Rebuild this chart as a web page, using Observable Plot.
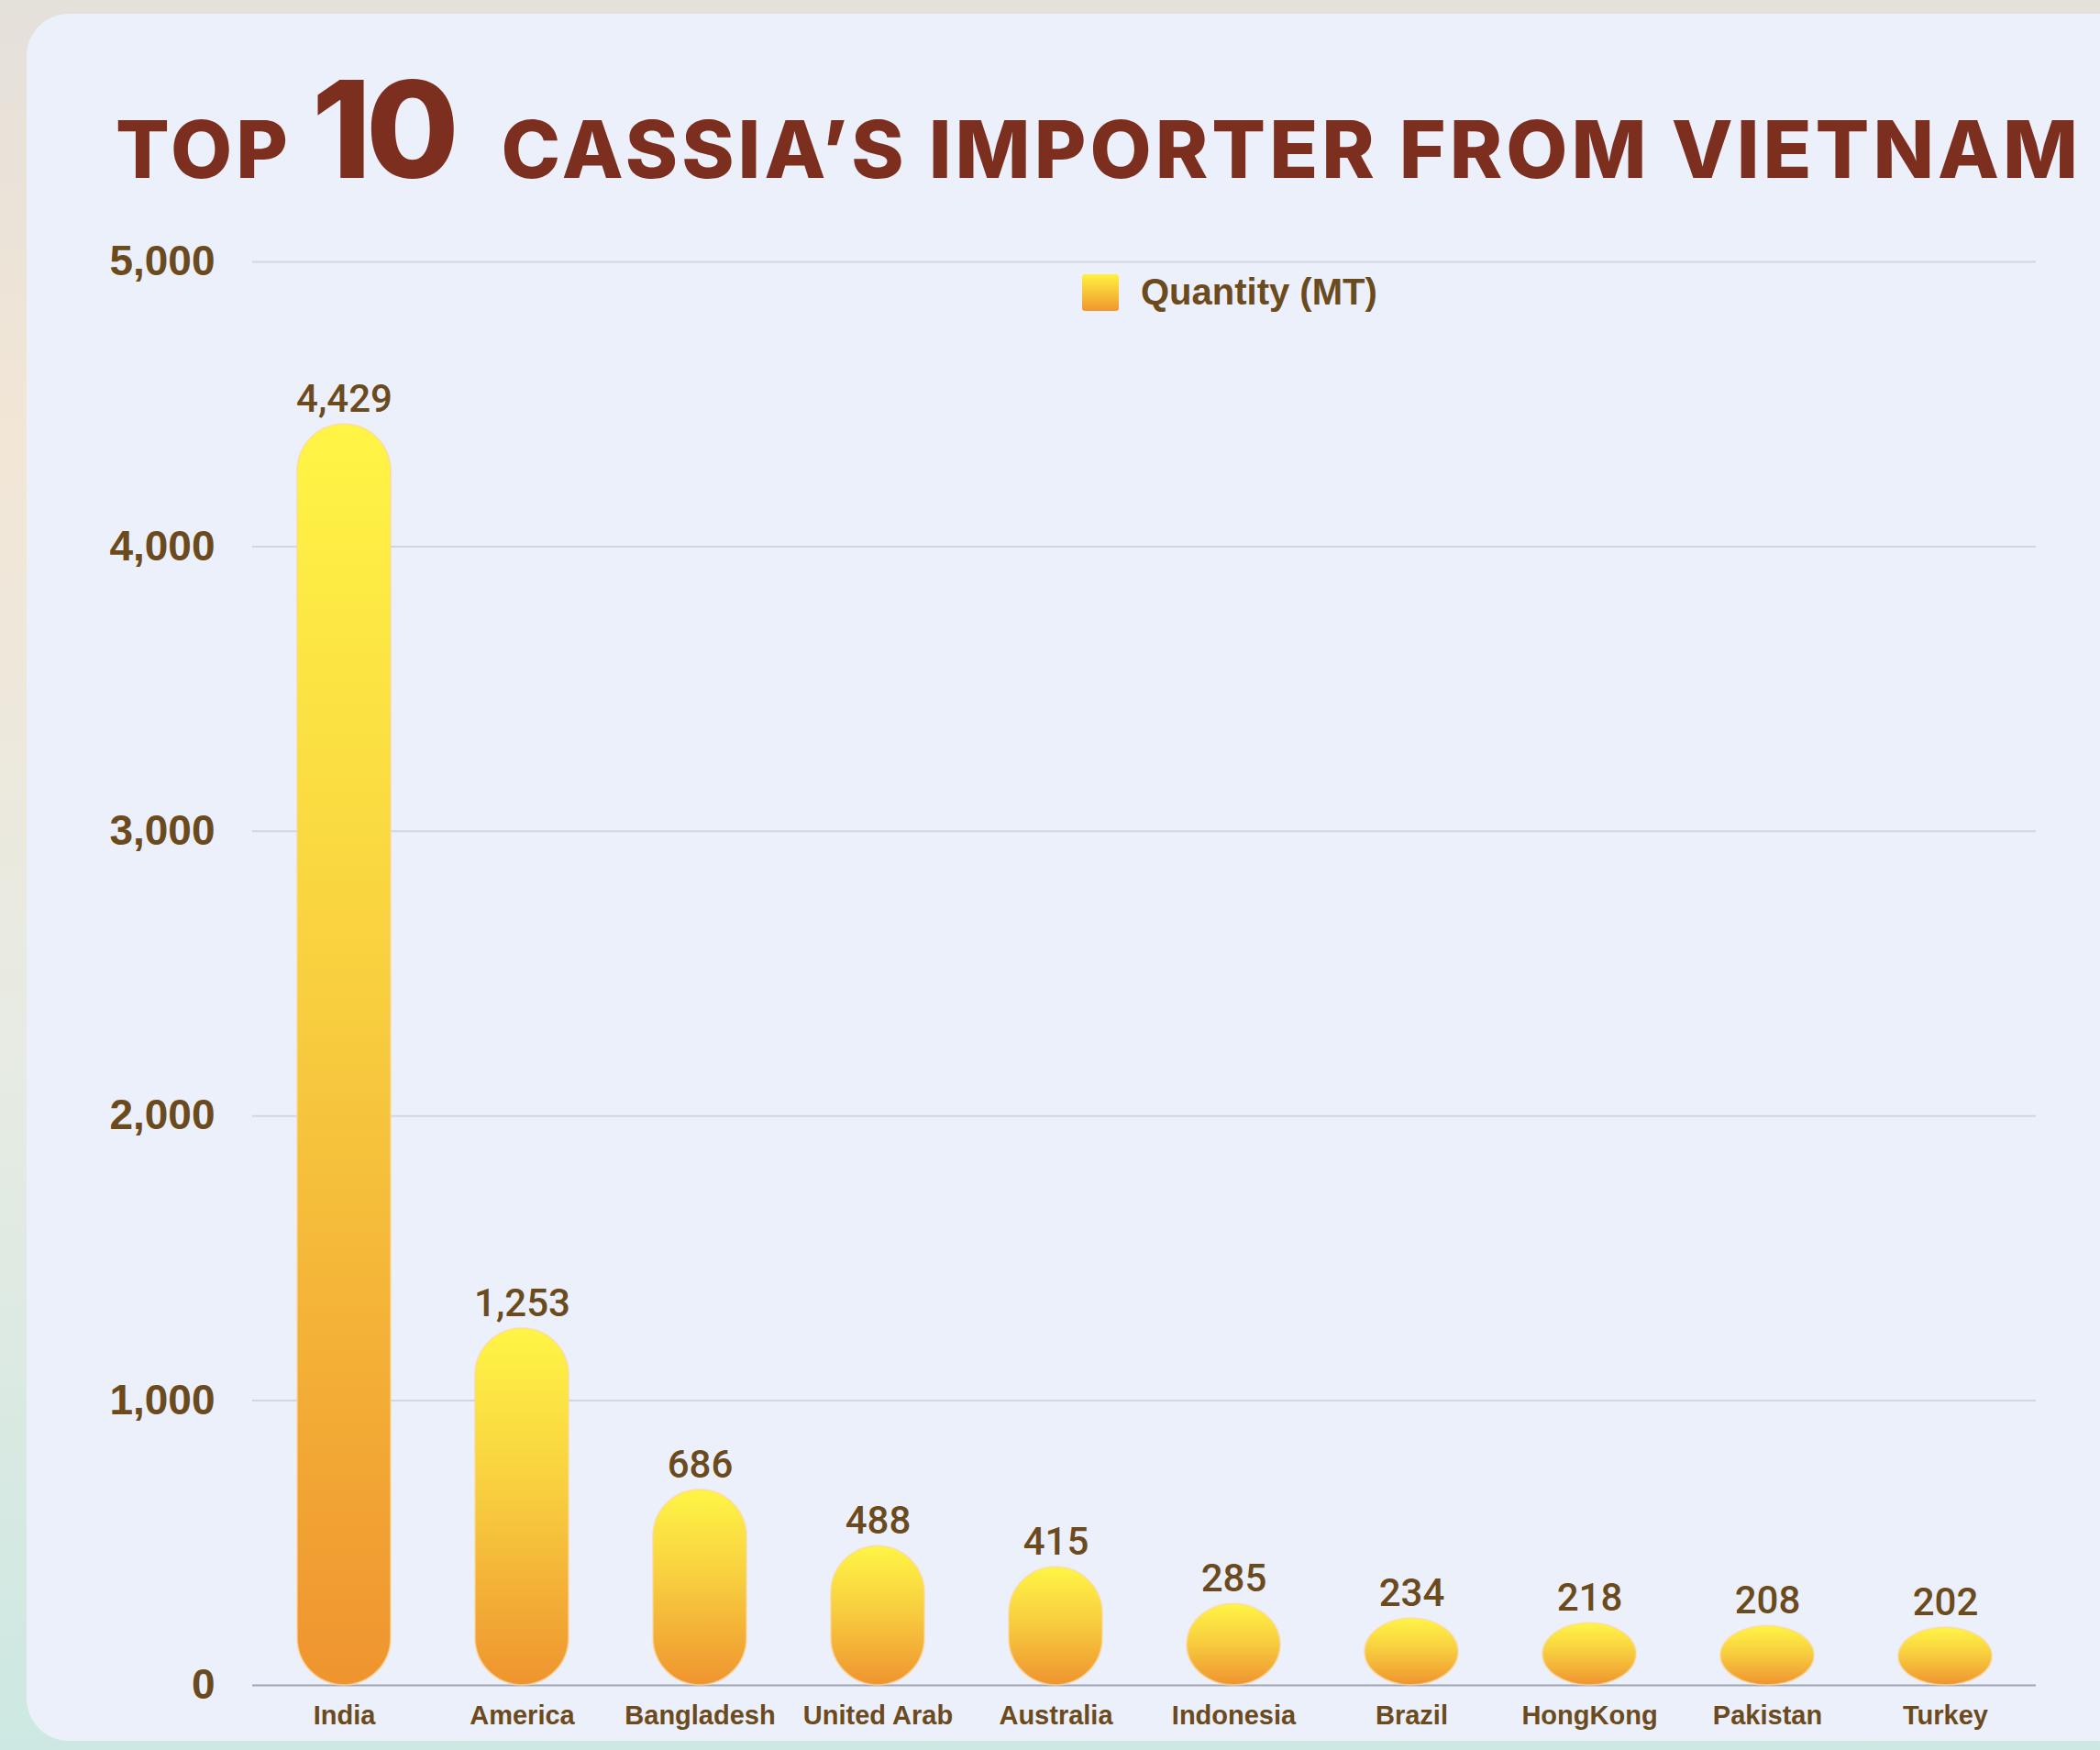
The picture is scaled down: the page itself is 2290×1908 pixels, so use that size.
<!DOCTYPE html>
<html>
<head>
<meta charset="utf-8">
<script src="https://cdn.jsdelivr.net/npm/d3@7"></script>
<script src="https://cdn.jsdelivr.net/npm/@observablehq/plot@0.6"></script>
<style>
  html, body { margin: 0; padding: 0; }
  body {
    width: 2290px; height: 1908px; position: relative; overflow: hidden;
    background: linear-gradient(180deg, #e4e0da 0%, #f2e6d6 25%, #e7ebe3 60%, #cde8e2 100%);
  }
  #card {
    position: absolute; left: 29px; top: 15px; width: 2320px; height: 1883px;
    background: #ecf0fa; border-radius: 46px;
  }
  #title {
    position: absolute; left: 126px; top: 67px; display: flex; align-items: baseline;
    font-family: Inter, "Open Sans", sans-serif; font-weight: 800; color: #7d2f1f;
    line-height: 1; white-space: nowrap;
  }
  #title .s { font-size: 87px; letter-spacing: 4px; }
  #title .b { font-size: 147px; margin: 0 52px 0 22px; letter-spacing: -6px; }
  #legend {
    position: absolute; left: 1180px; top: 296px; display: flex; align-items: center;
    font-family: "Liberation Sans", Arial, sans-serif; font-weight: bold; font-size: 40px; color: #6b4a1e;
  }
  #legend .sw { width: 40px; height: 40px; margin-right: 24px; background: linear-gradient(180deg, #fff23f, #f0972f); border-radius: 3px; }
  #chart { position: absolute; left: 0; top: 0; }
</style>
</head>
<body>
<div id="card"></div>
<div id="chart"></div>
<div id="title"><span class="s">TOP</span><span class="b">10</span><span class="s">CASSIA’S IMPORTER FROM VIETNAM</span></div>
<div id="legend"><div class="sw"></div><span>Quantity (MT)</span></div>
<script>
const countries = ["India", "America", "Bangladesh", "United Arab", "Australia", "Indonesia", "Brazil", "HongKong", "Pakistan", "Turkey"];
const quantities = [4429, 1253, 686, 488, 415, 285, 234, 218, 208, 202];
const yTicks = [0, 1000, 2000, 3000, 4000, 5000];

const data = countries.map((c, i) => ({country: c, value: quantities[i]}));
const brown = "#6b4a1e";
const fmt = d3.format(",");

const chart = Plot.plot({
  width: 2290,
  height: 1908,
  marginTop: 285,
  marginBottom: 71,
  marginLeft: 275,
  marginRight: 70,
  style: {background: "transparent", color: brown, overflow: "visible"},
  x: {domain: countries, paddingInner: 0.475, paddingOuter: 0.2375, label: null},
  y: {domain: [0, 5000], ticks: yTicks, label: null},
  marks: [
    Plot.ruleY(yTicks.filter(t => t > 0), {stroke: "#d2d6e0", strokeWidth: 2}),
    Plot.ruleY([0], {stroke: "#9ea4b4", strokeWidth: 2}),
    Plot.barY(data, {x: "country", y: "value", fill: "url(#barGrad)", rx: 51, ry: 51, stroke: "#fbd79c", strokeWidth: 2, strokeOpacity: 0.6}),
    Plot.text(data, {x: "country", y: "value", text: d => fmt(d.value), lineAnchor: "bottom", dy: -14,
      fontSize: 42, fontFamily: "Roboto, 'Liberation Sans', sans-serif", fontWeight: 500, fill: brown}),
    Plot.axisY({ticks: yTicks, tickFormat: d => fmt(d), tickSize: 0, tickPadding: 41, fontSize: 46, fontWeight: "bold",
      fontFamily: "'Liberation Sans', Arial, sans-serif", fill: brown, label: null}),
    Plot.axisX({tickSize: 0, tickPadding: 22, fontSize: 29, fontWeight: "bold",
      fontFamily: "'Liberation Sans', Arial, sans-serif", fill: brown, label: null})
  ]
});

const defs = d3.select(chart).insert("defs", ":first-child");
const g = defs.append("linearGradient").attr("id", "barGrad").attr("x1", 0).attr("y1", 0).attr("x2", 0).attr("y2", 1);
g.append("stop").attr("offset", "0%").attr("stop-color", "#fff545");
g.append("stop").attr("offset", "45%").attr("stop-color", "#f8cf3f");
g.append("stop").attr("offset", "100%").attr("stop-color", "#ef942f");

document.getElementById("chart").appendChild(chart);
</script>
</body>
</html>
